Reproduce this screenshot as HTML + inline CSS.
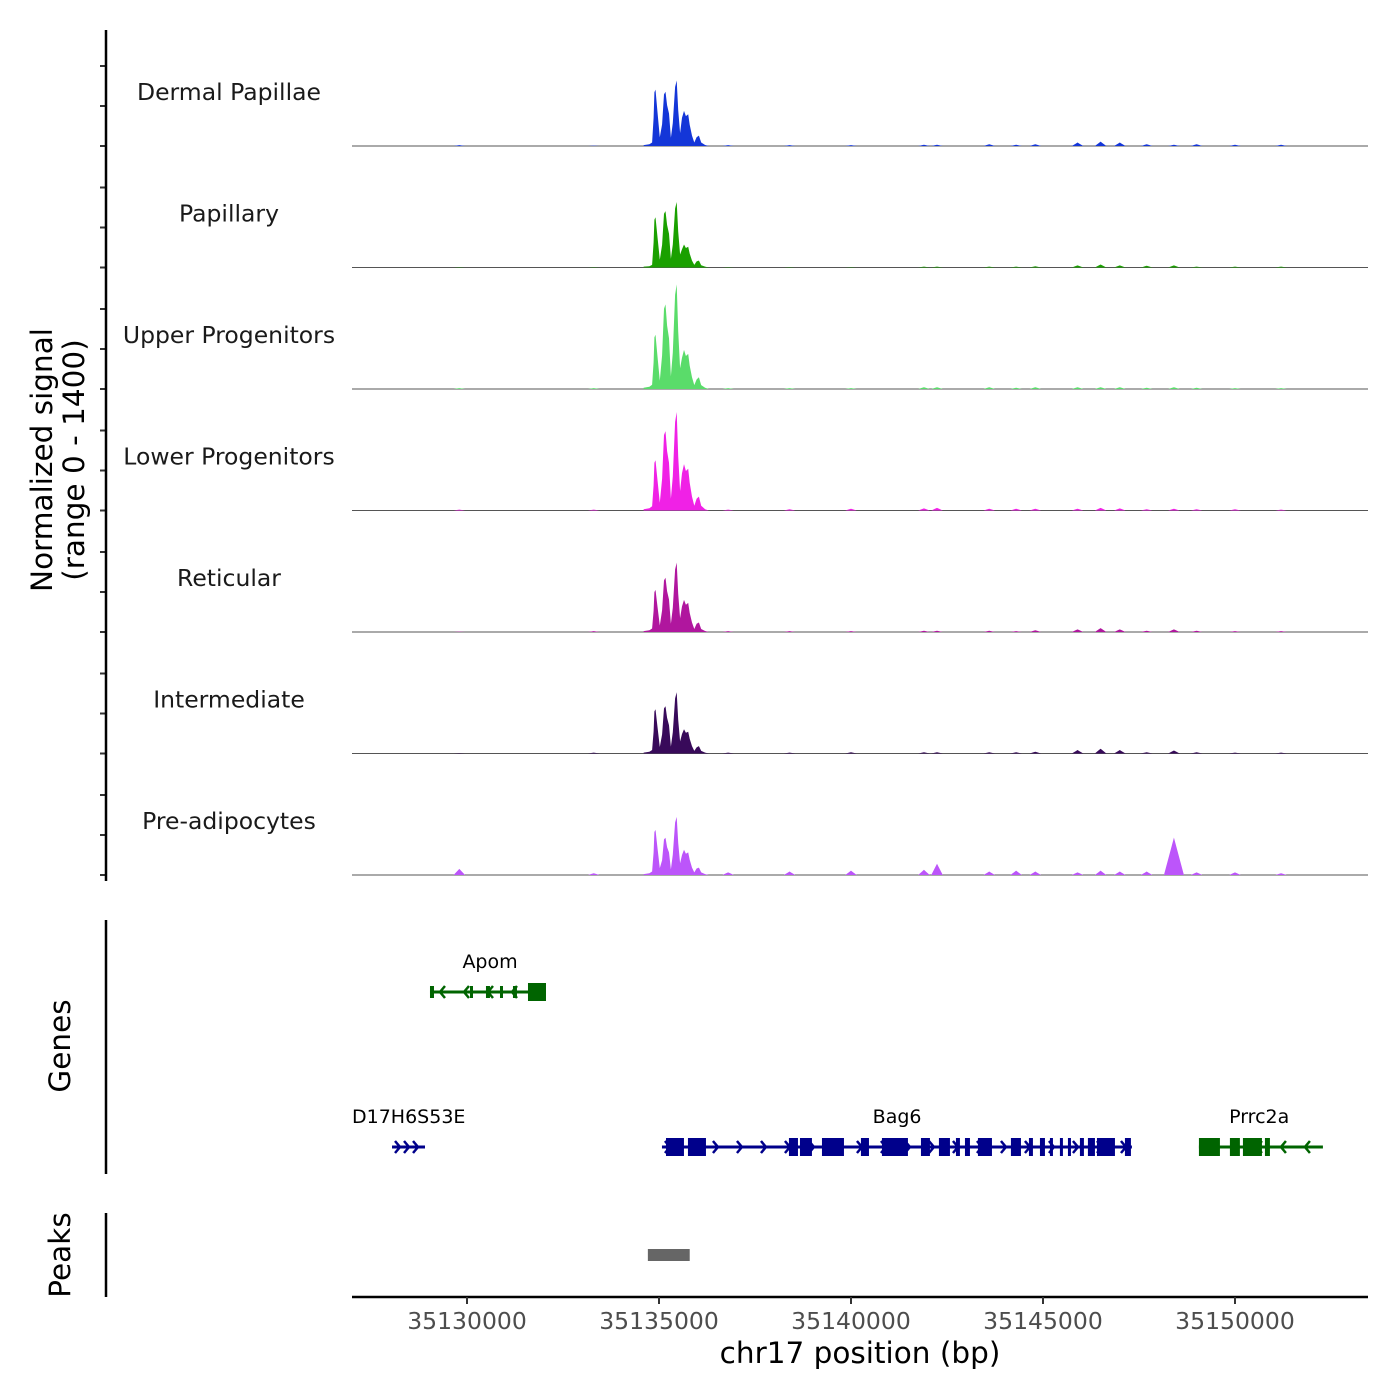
<!DOCTYPE html>
<html><head><meta charset="utf-8">
<style>
html,body{margin:0;padding:0;background:#fff;}
svg{display:block;font-family:"DejaVu Sans","Liberation Sans",sans-serif;}
</style></head>
<body>
<svg id="chart" width="1400" height="1400" viewBox="0 0 1400 1400">
  <rect width="1400" height="1400" fill="#fff"/>
  <g id="tracks"></g>
  <g id="genes"></g>
  <g id="peaks"></g>
  <g id="axes"></g>
</svg>
<script>
const trackNames = ["Dermal Papillae","Papillary","Upper Progenitors","Lower Progenitors","Reticular","Intermediate","Pre-adipocytes"];
const trackColors = ["#1436d8","#1aa000","#5adc6a","#f021e6","#b0169e","#380a5a","#bc55fa"];
const clusterPos = [34600,34750,34820,34860,34880,34910,34960,35020,35080,35130,35170,35210,35260,35310,35360,35420,35460,35500,35550,35600,35650,35700,35760,35800,35860,35920,35980,36040,36100,36200,36300];
const dermalVals = [10,20,40,325,620,650,390,100,250,595,625,470,375,95,265,680,755,415,150,325,405,345,365,245,120,40,100,120,40,12,0];
const papillaryVals = [10,15,30,290,550,580,350,90,260,620,650,490,390,100,265,680,755,415,150,210,265,225,240,160,80,30,70,80,25,10,0];
const upperVals = [15,25,50,310,595,625,375,95,390,925,975,730,585,145,420,1085,1205,665,240,360,450,380,405,270,135,45,110,135,45,14,0];
const lowerVals = [15,25,50,290,550,580,350,90,365,870,915,685,550,135,395,1020,1135,625,225,430,535,455,480,320,160,55,135,160,55,15,0];
const reticularVals = [10,20,40,245,460,485,290,75,250,595,625,470,375,95,280,720,800,440,160,295,370,315,335,220,110,35,95,110,35,11,0];
const intermediateVals = [10,20,40,255,485,510,305,75,220,520,545,410,325,80,245,635,705,390,140,225,280,240,250,170,85,30,70,85,30,10,0];
const preVals = [10,20,40,260,495,520,310,80,170,410,430,320,260,65,235,605,670,370,135,230,290,245,260,175,85,30,75,85,30,10,0];
const bgPos = [29800,33300,36800,38400,40000,41900,42240,43600,44300,44800,45900,46500,47000,47700,48410,49000,50000,51200];
const dermalBg = [10,5,10,10,10,15,15,20,15,20,40,50,40,20,15,20,15,15];
const papillaryBg = [5,5,5,5,5,10,10,10,10,15,25,35,25,20,25,10,10,10];
const upperBg = [10,10,10,10,10,20,20,20,15,20,20,20,20,15,20,15,10,10];
const lowerBg = [10,10,10,15,20,25,30,20,20,20,20,30,25,15,20,15,15,10];
const reticularBg = [5,10,10,10,10,15,15,15,10,20,30,45,30,15,30,15,10,10];
const intermediateBg = [5,10,10,10,15,15,15,15,15,20,40,55,40,15,35,15,10,10];
const preBg = [70,20,30,40,50,60,130,40,50,40,30,50,40,40,430,30,30,20];
const xTicks = [35130000,35135000,35140000,35145000,35150000];
const peakRanges = [[35134710,35135800]];
const genes = [
 {name:"Apom",strand:-1,row:0,start:35129036,end:35132057,color:"#006400",labelX:35130600,
  exons:[[35129036,35129140],[35130078,35130156],[35130494,35130598],[35130859,35130937],[35131197,35131301],[35131588,35132057]]},
 {name:"D17H6S53E",strand:1,row:1,start:35128047,end:35128906,color:"#00008b",labelX:35128550,exons:[]},
 {name:"Bag6",strand:1,row:1,start:35135077,end:35147316,color:"#00008b",labelX:35141200,
  exons:[[35135182,35135650],[35135754,35136223],[35138384,35138619],[35138671,35138983],[35139244,35139817],[35140259,35140468],[35140806,35141483],[35141822,35142056],[35142290,35142577],[35142733,35142837],[35142968,35143098],[35143306,35143671],[35144165,35144426],[35144634,35144738],[35144921,35145051],[35145181,35145259],[35145441,35145519],[35145650,35145728],[35145962,35146066],[35146170,35146353],[35146405,35146874],[35147134,35147290]]},
 {name:"Prrc2a",strand:-1,row:1,start:35149061,end:35152290,color:"#006400",labelX:35150630,
  exons:[[35149061,35149608],[35149868,35150128],[35150207,35150702],[35150780,35150910]]}
];
const clusterVals=[dermalVals,papillaryVals,upperVals,lowerVals,reticularVals,intermediateVals,preVals];
const bgVals=[dermalBg,papillaryBg,upperBg,lowerBg,reticularBg,intermediateBg,preBg];

const NS="http://www.w3.org/2000/svg";
const X0=352,X1=1368,BP0=35127005,BP1=35153464;
const xs=bp=>X0+(bp-BP0)/(BP1-BP0)*(X1-X0);
const baseY0=146, trackH=121.5, yMax=1400;
const ys=(v,i)=>baseY0+i*trackH - v/yMax*trackH;
function mk(tag,attrs,parent){const e=document.createElementNS(NS,tag);for(const k in attrs)e.setAttribute(k,attrs[k]);parent.appendChild(e);return e;}
const tracksG=document.getElementById('tracks');
const axesG=document.getElementById('axes');

trackNames.forEach((name,i)=>{
  const base=baseY0+i*trackH;
  const g=mk('g',{},tracksG);
  
  
  const bl=mk('line',{x1:X0,x2:X1,y1:base,y2:base,stroke:'#555','stroke-width':1},g);
  
  
  let d='M'+xs(35100000+clusterPos[0])+','+base;
  clusterPos.forEach((p,j)=>{d+=' L'+xs(35100000+p).toFixed(1)+','+ys(clusterVals[i][j],i).toFixed(1);});
  d+=' L'+xs(35100000+clusterPos[clusterPos.length-1])+','+base+' Z';
  const a=mk('path',{d:d,fill:trackColors[i]},g);
  
  
  bgPos.forEach((p,j)=>{
    const c=35100000+p, v=bgVals[i][j];
    const hw = v>200?260:150;
    const pd='M'+xs(c-hw)+','+base+' L'+xs(c-hw*0.3)+','+ys(v*0.7,i)+' L'+xs(c)+','+ys(v,i)+' L'+xs(c+hw*0.3)+','+ys(v*0.7,i)+' L'+xs(c+hw)+','+base+' Z';
    const b=mk('path',{d:pd,fill:trackColors[i]},g);
    
    
  });
  const t=mk('text',{x:229,y:base-46,'text-anchor':'middle','font-size':23.5,fill:'#1a1a1a'},g);
  t.textContent=name;
  
  
  [0,40,80].forEach(o=>{const tk=mk('line',{x1:100,x2:106,y1:base-o,y2:base-o,stroke:'#333','stroke-width':2},axesG);
    
    });
});

[[30,881],[920,1174],[1213,1297]].forEach(r=>{const l=mk('line',{x1:106,x2:106,y1:r[0],y2:r[1],stroke:'#000','stroke-width':2.5},axesG);
  
  });
const yt=mk('text',{transform:'translate(52,460) rotate(-90)','text-anchor':'middle','font-size':29.5,fill:'#000'},axesG);


yt.innerHTML='<tspan x="0" dy="0">Normalized signal</tspan><tspan x="0" dy="32">(range 0 - 1400)</tspan>';
const gt=mk('text',{transform:'translate(70,1046) rotate(-90)','text-anchor':'middle','font-size':29.5,fill:'#000'},axesG);
gt.textContent='Genes';


const pt=mk('text',{transform:'translate(70,1255) rotate(-90)','text-anchor':'middle','font-size':29.5,fill:'#000'},axesG);
pt.textContent='Peaks';



const xl=mk('line',{x1:X0,x2:X1,y1:1297,y2:1297,stroke:'#000','stroke-width':2.5},axesG);


xTicks.forEach(v=>{
  const tk=mk('line',{x1:xs(v),x2:xs(v),y1:1297,y2:1304,stroke:'#333','stroke-width':2},axesG);
  
  
  const tl=mk('text',{x:xs(v),y:1329,'text-anchor':'middle','font-size':23.5,fill:'#4d4d4d'},axesG);
  tl.textContent=String(v);
  
  
});
const xt=mk('text',{x:860,y:1363,'text-anchor':'middle','font-size':29.5,fill:'#000'},axesG);
xt.textContent='chr17 position (bp)';



const peaksG=document.getElementById('peaks');
peakRanges.forEach(r=>{const p=mk('rect',{x:xs(r[0]),y:1249,width:xs(r[1])-xs(r[0]),height:12,fill:'#666'},peaksG);
  
  });

const genesG=document.getElementById('genes');
const rowY=[992,1147];
genes.forEach(gn=>{
  const y=rowY[gn.row];
  const g=mk('g',{},genesG);
  
  
  mk('line',{x1:xs(gn.start),x2:xs(gn.end),y1:y,y2:y,stroke:gn.color,'stroke-width':3},g);
  const step=24, x0=xs(gn.start), x1=xs(gn.end);
  for(let x=x0+ (gn.strand>0?8:10); x<x1-4; x+=(gn.name==='D17H6S53E'?9:step)){
    const dx=gn.strand>0?5:-5;
    mk('path',{d:'M'+(x-dx)+','+(y-6)+' L'+x+','+y+' L'+(x-dx)+','+(y+6),fill:'none',stroke:gn.color,'stroke-width':2.5},g);
  }
  gn.exons.forEach((e,k)=>{
    const w=Math.max(3,xs(e[1])-xs(e[0]));
    const h=(gn.name==='Apom'&&k<5)?12:18;
    const r=mk('rect',{x:xs(e[0]),y:y-h/2,width:w,height:h,fill:gn.color},g);
    
    
  });
  const lbl=mk('text',{x:gn.name==='D17H6S53E'?352:xs(gn.labelX),y:y-24,'text-anchor':gn.name==='D17H6S53E'?'start':'middle','font-size':19,fill:'#000'},g);
  lbl.textContent=gn.name;
  
  
});
</script>
</body></html>
